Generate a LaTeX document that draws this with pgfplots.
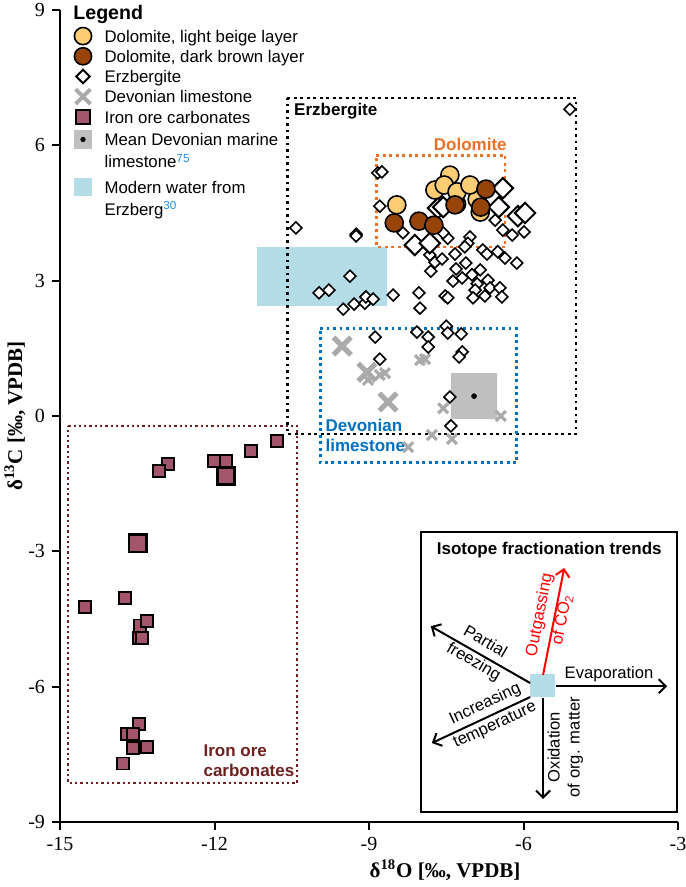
\documentclass[border=0pt]{standalone}
\usepackage{fontspec}
\setmainfont{Liberation Sans}
\newfontfamily\seriffont{Liberation Serif}
\usepackage{pgfplots}
\pgfplotsset{compat=1.18}
\usetikzlibrary{arrows.meta}
\definecolor{beige}{RGB}{253,205,115}
\definecolor{brownd}{RGB}{150,68,8}
\definecolor{ironc}{RGB}{163,86,107}
\definecolor{crossg}{RGB}{170,170,170}
\definecolor{dolo}{RGB}{233,113,40}
\definecolor{devb}{RGB}{0,112,192}
\definecolor{ironbox}{RGB}{110,32,32}
\definecolor{water}{RGB}{180,221,231}
\definecolor{meang}{RGB}{191,191,191}
\definecolor{refb}{RGB}{40,140,220}
\begin{document}
\begin{tikzpicture}
\useasboundingbox (-30pt,-32.5pt) rectangle (312.5pt,411pt);
\begin{axis}[
  scale only axis, width=309pt, height=406pt,
  xmin=-15, xmax=-3, ymin=-9, ymax=9,
  axis lines=left, axis line style={-, line width=1pt},
  xtick={-15,-12,-9,-6,-3}, xticklabels={-15,-12,-9,-6,-3},
  ytick={-9,-6,-3,0,3,6,9}, yticklabels={-9,-6,-3,0,3,6,9},
  tick align=outside, major tick length=4pt,
  tick style={line width=1pt, black},
  ticklabel style={font=\seriffont\fontsize{10}{12}\selectfont},
  xlabel={\seriffont\bfseries\fontsize{10.5}{12}\selectfont δ\textsuperscript{18}O [‰, VPDB]},
  ylabel={\seriffont\bfseries\fontsize{10.5}{12}\selectfont δ\textsuperscript{13}C [‰, VPDB]},
  every axis x label/.style={at={(axis description cs:0.623,-0.059)}, anchor=center},
  every axis y label/.style={at={(axis description cs:-0.073,0.5)}, rotate=90, anchor=center},
  clip=false,
  legend style={at={(0.022,0.9797)}, anchor=north west, draw=none, fill=none,
    font=\fontsize{8.4}{11}\selectfont, cells={anchor=west, align=left},
    row sep=0.9pt, column sep=6.3pt, inner sep=0pt, nodes={inner sep=0pt}},
  legend cell align=left,
]
% legend images
\addlegendimage{only marks, mark=*, mark size=4.3pt, mark options={fill=beige, draw=black, line width=0.8pt}}
\addlegendentry{\strut Dolomite, light beige layer}
\addlegendimage{only marks, mark=*, mark size=4.3pt, mark options={fill=brownd, draw=black, line width=0.8pt}}
\addlegendentry{\strut Dolomite, dark brown layer}
\addlegendimage{only marks, mark=square*, mark size=2.4pt, mark options={fill=white, draw=black, line width=1pt, rotate=45}}
\addlegendentry{\strut Erzbergite}
\addlegendimage{only marks, mark=x, mark size=5.2pt, mark options={draw=crossg, line width=2pt}}
\addlegendentry{\strut Devonian limestone}
\addlegendimage{only marks, mark=square*, mark size=3.4pt, mark options={fill=ironc, draw=black, line width=1pt}}
\addlegendentry{\strut Iron ore carbonates}
\addlegendimage{legend image code/.code={\path (0.3cm,-11.2pt) (0.3cm,11.2pt); \fill[meang] (0.3cm-4.3pt,5.6pt-4.3pt) rectangle (0.3cm+4.3pt,5.6pt+4.3pt); \fill[black] (0.3cm,5.6pt) circle (1.1pt);}}
\addlegendentry{\strut Mean Devonian marine\\\strut limestone\textsuperscript{\textcolor{refb}{75}}}
\addlegendimage{legend image code/.code={\path (0.3cm,-11.2pt) (0.3cm,11.2pt); \fill[water] (0.3cm-4.2pt,5.6pt-4.2pt) rectangle (0.3cm+4.2pt,5.6pt+4.2pt);}}
\addlegendentry{\strut Modern water from\\\strut Erzberg\textsuperscript{\textcolor{refb}{30}}}

% modern water rectangle
\addplot[fill=water, draw=none, forget plot] coordinates {(-11.17,3.745) (-8.65,3.745) (-8.65,2.44) (-11.17,2.44) (-11.17,3.745)};
% mean Devonian marine limestone
\addplot[fill=meang, draw=none, forget plot] coordinates {(-7.41,0.95) (-6.51,0.95) (-6.51,-0.07) (-7.41,-0.07) (-7.41,0.95)};
\addplot[only marks, mark=*, mark size=1.2pt, black, forget plot] coordinates {(-6.96,0.44)};

% dotted boxes
\addplot[black, line width=1.45pt, dash pattern=on 1.45pt off 1.8pt, forget plot] coordinates {(-10.59,7.05) (-4.98,7.05) (-4.98,-0.40) (-10.59,-0.40) (-10.59,7.05)};
\addplot[dolo, line width=1.45pt, dash pattern=on 1.45pt off 1.8pt, forget plot] coordinates {(-8.86,5.78) (-6.36,5.78) (-6.36,3.745) (-8.86,3.745) (-8.86,5.78)};
\addplot[devb, line width=1.45pt, dash pattern=on 1.45pt off 1.8pt, forget plot] coordinates {(-9.95,1.93) (-6.13,1.93) (-6.13,-1.04) (-9.95,-1.04) (-9.95,1.93)};
\addplot[ironbox, line width=1.15pt, dash pattern=on 1.15pt off 1.5pt, forget plot] coordinates {(-14.84,-0.22) (-10.40,-0.22) (-10.40,-8.14) (-14.84,-8.14) (-14.84,-0.22)};

% Devonian limestone crosses
\addplot[only marks, mark=x, mark size=3.5pt, mark options={draw=crossg, line width=1.6pt}, forget plot] coordinates {
(-9.02,0.80) (-8.79,0.91) (-8.69,0.95) (-8.01,1.24) (-7.91,1.26) (-7.56,0.17) (-6.44,0.00) (-7.78,-0.42) (-7.39,-0.51) (-8.24,-0.69)};
\addplot[only marks, mark=x, mark size=6.2pt, mark options={draw=crossg, line width=2.6pt}, forget plot] coordinates {
(-9.52,1.55) (-9.04,0.97) (-8.63,0.31)};

% Erzbergite small diamonds
\addplot[only marks, mark=square*, mark size=2.1pt, mark options={fill=white, draw=black, line width=0.8pt, rotate=45}, forget plot] coordinates {
(-5.10,6.80) (-8.83,5.39) (-8.75,5.41) (-8.79,4.65) (-10.42,4.17) (-9.25,4.03) (-9.25,3.99) (-8.34,4.06)
(-7.47,3.94) (-7.56,4.06) (-7.04,3.97) (-7.08,3.83) (-7.14,3.75) (-6.55,4.34) (-6.40,4.12) (-6.22,4.01)
(-5.99,4.08) (-6.79,3.68) (-6.71,3.59) (-6.50,3.64) (-6.36,3.50) (-6.13,3.39) (-7.82,3.57) (-7.72,3.41)
(-7.80,3.21) (-7.58,3.48) (-7.33,3.59) (-7.31,3.26) (-7.12,3.39) (-6.84,3.24) (-7.00,3.13) (-7.37,2.99)
(-7.19,3.06) (-6.69,3.01) (-6.90,2.93) (-6.94,2.79) (-6.98,2.62) (-6.75,2.66) (-6.65,2.84) (-6.46,2.84)
(-6.42,2.64) (-7.52,2.66) (-7.47,2.62) (-8.03,2.73) (-8.01,2.39) (-8.53,2.68) (-9.37,3.10) (-9.97,2.73)
(-9.78,2.79) (-9.50,2.37) (-9.29,2.48) (-9.08,2.50) (-9.06,2.64) (-8.92,2.59)
(-8.07,1.86) (-7.50,1.99) (-7.47,1.84) (-7.85,1.75) (-7.85,1.53) (-7.21,1.82) (-7.19,1.42) (-7.25,1.31)
(-8.88,1.75) (-8.79,1.26) (-7.43,0.42) (-7.41,-0.22)};
% Erzbergite large diamonds
\addplot[only marks, mark=square*, mark size=3.6pt, mark options={fill=white, draw=black, line width=1pt, rotate=45}, forget plot] coordinates {
(-7.66,4.61) (-7.56,4.63) (-6.40,5.05) (-6.48,4.63) (-6.11,4.43) (-5.97,4.50) (-8.11,3.79) (-7.82,3.83)};

% Iron ore carbonates
\addplot[only marks, mark=square*, mark size=3.0pt, mark options={fill=ironc, draw=black, line width=0.8pt}, forget plot] coordinates {
(-10.79,-0.56) (-11.29,-0.78) (-12.01,-1.0) (-11.78,-1.0) (-12.90,-1.07) (-13.08,-1.22) (-13.74,-4.04)
(-14.51,-4.24) (-13.45,-4.64) (-13.31,-4.55) (-13.47,-4.92) (-13.41,-4.92) (-13.47,-6.83) (-13.70,-7.05)
(-13.58,-7.05) (-13.58,-7.36) (-13.31,-7.34) (-13.78,-7.70)};
\addplot[only marks, mark=square*, mark size=4.3pt, mark options={fill=ironc, draw=black, line width=1.3pt}, forget plot] coordinates {
(-11.78,-1.33) (-13.49,-2.82)};

% Dolomite circles
\addplot[only marks, mark=*, mark size=4.5pt, mark options={fill=beige, draw=black, line width=0.8pt}, forget plot] coordinates {
(-6.84,4.52) (-7.30,4.70) (-6.90,4.80) (-8.46,4.68) (-7.72,5.01) (-7.43,5.34) (-7.54,5.12) (-7.29,4.97) (-7.04,5.12)};
\addplot[only marks, mark=*, mark size=4.5pt, mark options={fill=brownd, draw=black, line width=0.8pt}, forget plot] coordinates {
(-8.51,4.28) (-8.03,4.32) (-7.74,4.23) (-7.33,4.68) (-6.73,5.03) (-6.83,4.63)};

% labels
\node[font=\bfseries\fontsize{9.8}{11}\selectfont, anchor=west, inner sep=0pt] at (rel axis cs:0.021,0.995) {Legend};
\node[font=\bfseries\fontsize{8.5}{10}\selectfont, anchor=west, inner sep=0pt] at (axis cs:-10.46,6.76) {Erzbergite};
\node[font=\bfseries\fontsize{8.5}{10}\selectfont, anchor=east, text=dolo, inner sep=0pt] at (axis cs:-6.32,6.01) {Dolomite};
\node[font=\bfseries\fontsize{8.5}{10}\selectfont, anchor=west, text=devb, align=left, inner sep=0pt] at (axis cs:-9.85,-0.42) {Devonian\\limestone};
\node[font=\bfseries\fontsize{8.5}{10}\selectfont, anchor=west, text=ironbox, align=left, inner sep=0pt] at (axis cs:-12.22,-7.65) {Iron ore\\carbonates};

% inset
\draw[line width=0.8pt] (axis cs:-7.99,-2.57) rectangle (axis cs:-3.02,-8.78);
\node[font=\bfseries\fontsize{8.5}{10}\selectfont] at (axis cs:-5.50,-2.97) {Isotope fractionation trends};
\fill[water] (axis cs:-5.87,-5.72) rectangle (axis cs:-5.39,-6.23);
\draw[line width=1pt, -{Straight Barb[length=3.5pt,width=7pt]}] (axis cs:-5.37,-5.99) -- (axis cs:-3.21,-5.99);
\draw[line width=1pt, red, -{Straight Barb[length=3.5pt,width=7pt]}] (axis cs:-5.62,-5.74) -- (axis cs:-5.21,-3.37);
\draw[line width=1pt, -{Straight Barb[length=3.5pt,width=7pt]}] (axis cs:-5.87,-5.92) -- (axis cs:-7.80,-4.66);
\draw[line width=1pt, -{Straight Barb[length=3.5pt,width=7pt]}] (axis cs:-5.87,-6.23) -- (axis cs:-7.78,-7.25);
\draw[line width=1pt, -{Straight Barb[length=3.5pt,width=7pt]}] (axis cs:-5.62,-6.25) -- (axis cs:-5.62,-8.49);
\node[font=\fontsize{8.3}{9.5}\selectfont] at (axis cs:-4.34,-5.72) {Evaporation};
\node[font=\fontsize{8.3}{11.5}\selectfont, text=red, rotate=79, align=center] at (axis cs:-5.47,-4.46) {Outgassing\\of CO\textsubscript{2}};
\node[font=\fontsize{8.3}{11.5}\selectfont, rotate=-30, align=center] at (axis cs:-6.86,-5.24) {Partial\\freezing};
\node[font=\fontsize{8.3}{11.5}\selectfont, rotate=25, align=center] at (axis cs:-6.65,-6.62) {Increasing\\temperature};
\node[font=\fontsize{8.3}{10}\selectfont, rotate=90, align=center] at (axis cs:-5.19,-7.34) {Oxidation\\of org. matter};
\end{axis}
\end{tikzpicture}
\end{document}
